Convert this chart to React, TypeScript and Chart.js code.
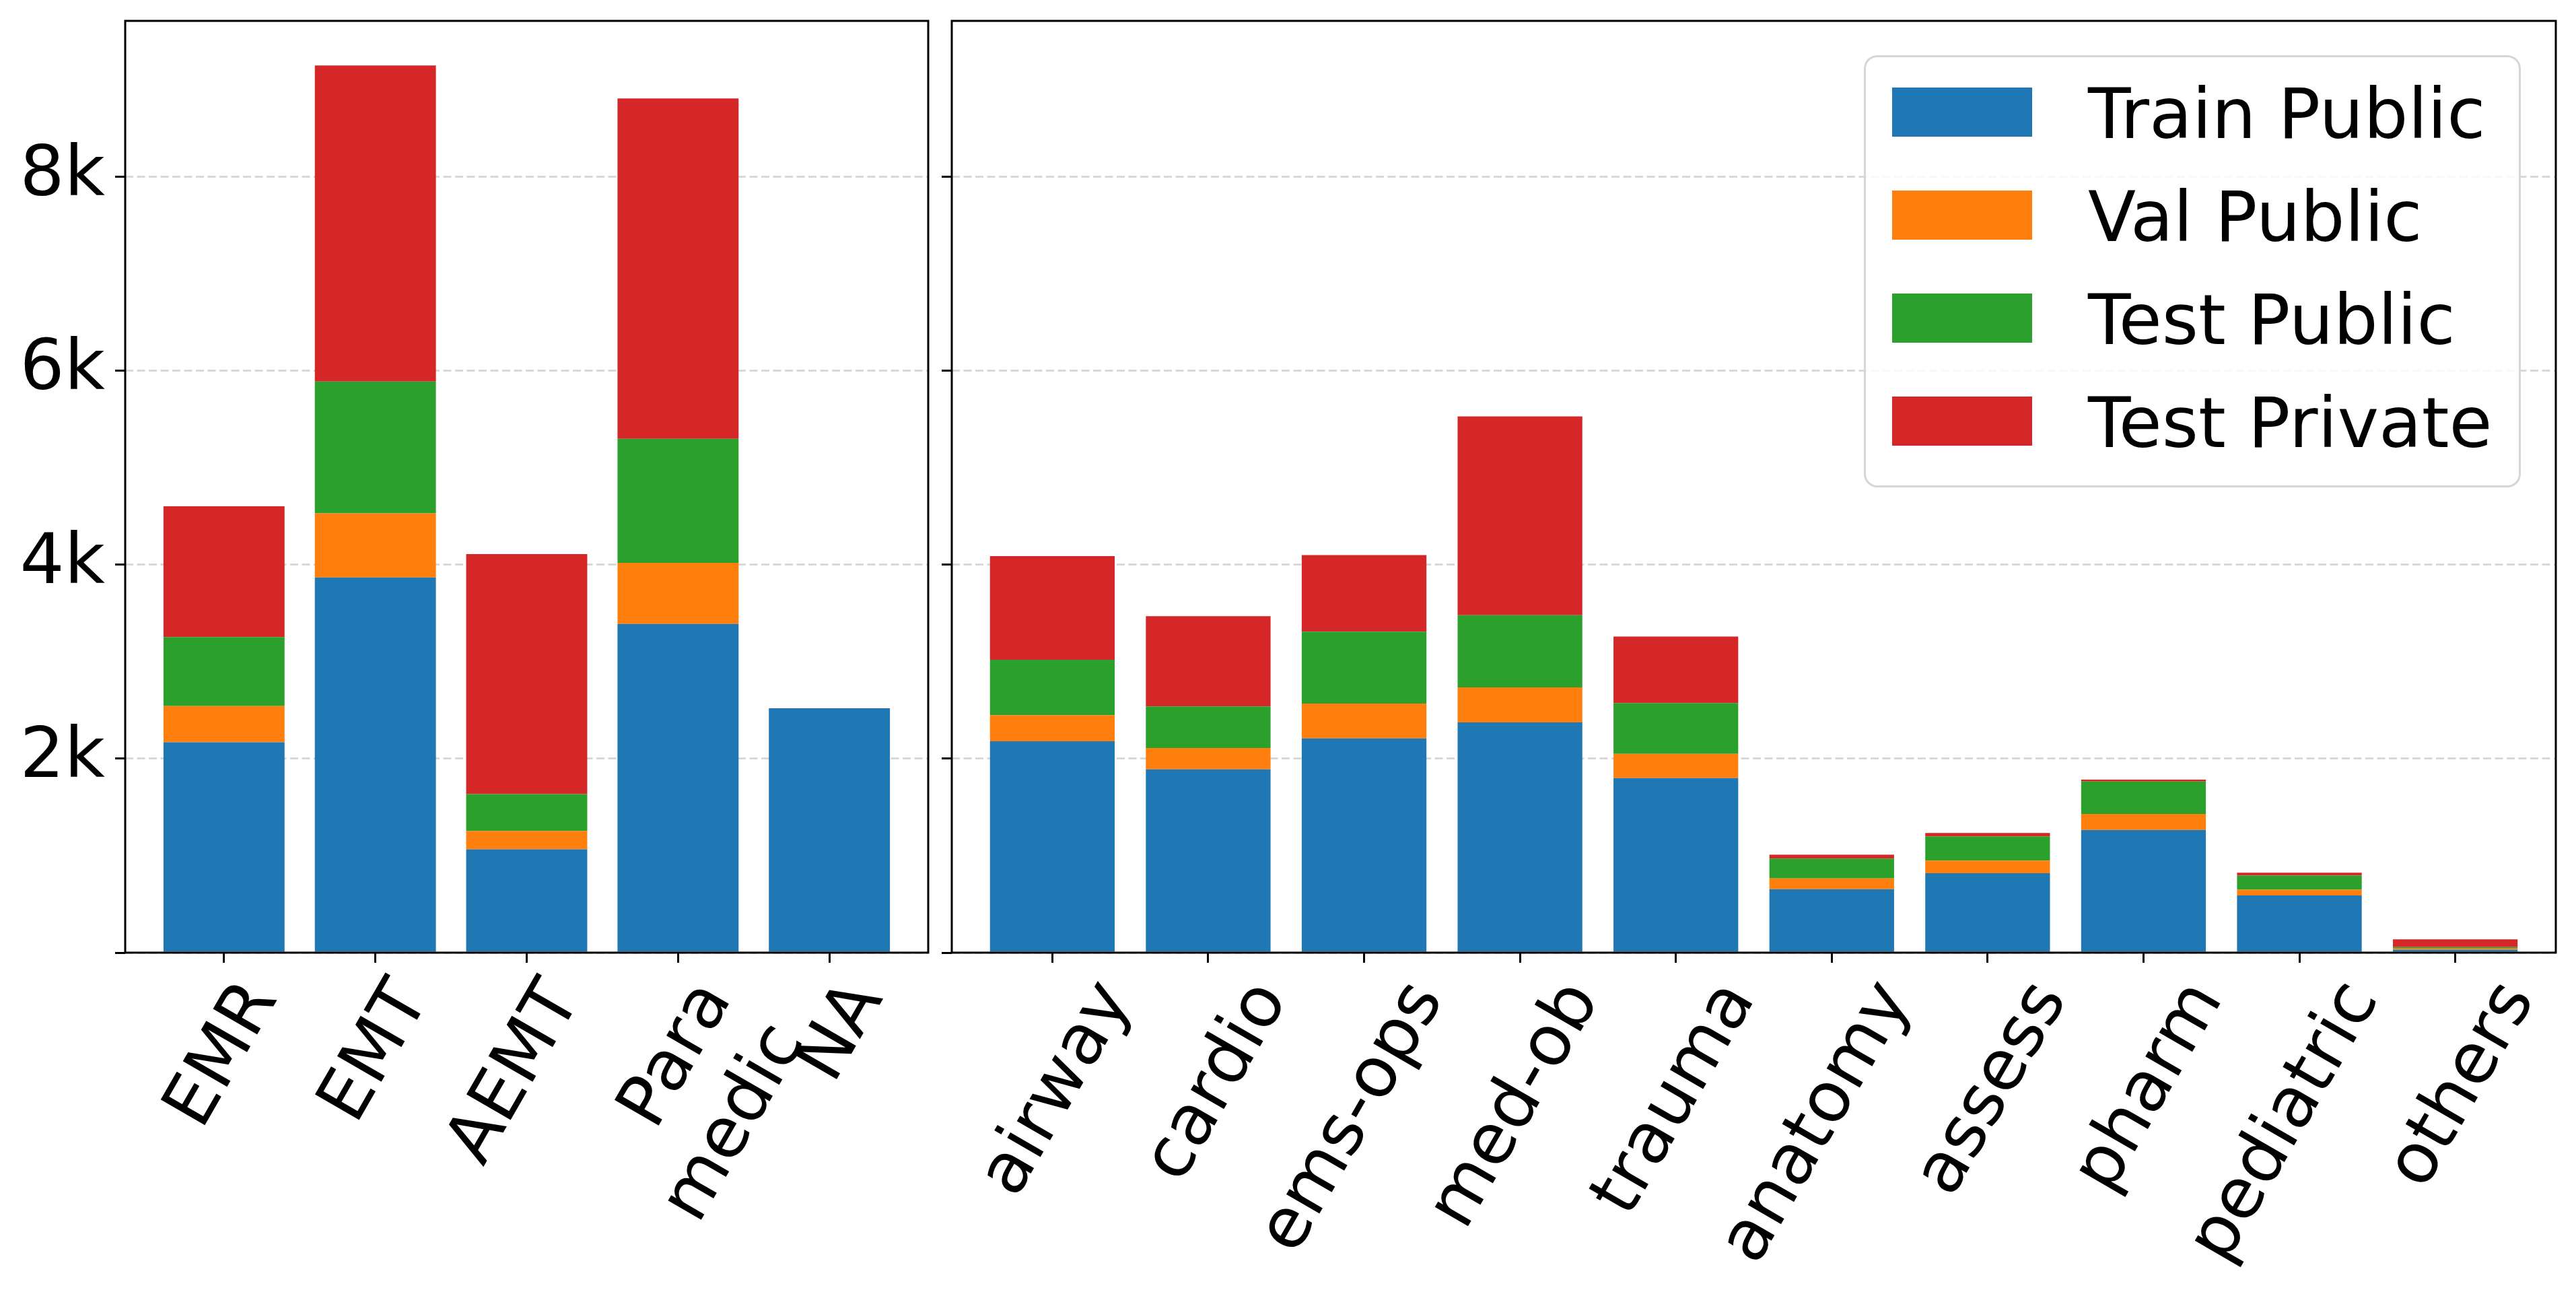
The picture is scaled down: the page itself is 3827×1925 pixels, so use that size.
import { useEffect, useRef } from "react";
import { Chart, registerables } from "chart.js";

Chart.register(...registerables);

const seriesLabels = ["Train Public", "Val Public", "Test Public", "Test Private"];
const seriesColors = ["#1f77b4", "#ff7f0e", "#2ca02c", "#d62728"];

// left panel: certification level
const levelCategories = ["EMR", "EMT", "AEMT", "Para\nmedic", "NA"];
const levelTrainPublic = [2170, 3870, 1065, 3390, 2520];
const levelValPublic = [373, 660, 190, 630, 0];
const levelTestPublic = [712, 1360, 380, 1280, 0];
const levelTestPrivate = [1349, 3260, 2475, 3510, 0];

// right panel: topic
const topicCategories = ["airway", "cardio", "ems-ops", "med-ob", "trauma", "anatomy", "assess", "pharm", "pediatric", "others"];
const topicTrainPublic = [2180, 1890, 2210, 2375, 1800, 655, 820, 1265, 590, 29];
const topicValPublic = [270, 220, 360, 360, 250, 110, 130, 165, 60, 14];
const topicTestPublic = [570, 430, 740, 745, 525, 205, 250, 335, 145, 14];
const topicTestPrivate = [1070, 930, 790, 2050, 685, 40, 35, 20, 30, 80];

const yTickValues = [0, 2000, 4000, 6000, 8000];
const yMax = 9610;

const FONT = '"DejaVu Sans", sans-serif';
const FONT_SIZE = 104;

const framePlugin = {
  id: "frame",
  afterDraw(chart: Chart) {
    const { ctx, chartArea: a } = chart;
    ctx.save();
    ctx.strokeStyle = "#000";
    ctx.lineWidth = 3;
    ctx.strokeRect(a.left, a.top, a.right - a.left, a.bottom - a.top);
    ctx.restore();
  },
};

type PanelProps = {
  categories: string[];
  series: number[][];
  xMin: number;
  xMax: number;
  left: number;
  width: number;
  yAxisWidth: number;
  padRight: number;
  showYLabels: boolean;
  labelOffset: number;
};

function Panel(props: PanelProps) {
  const canvasRef = useRef<HTMLCanvasElement>(null);
  const height = 1925;

  useEffect(() => {
    if (!canvasRef.current) return;
    const { categories, series } = props;

    const chart = new Chart(canvasRef.current, {
      type: "bar",
      data: {
        datasets: series.map((values, s) => ({
          label: seriesLabels[s],
          data: values.map((v, i) => ({ x: i, y: v })),
          backgroundColor: seriesColors[s],
          borderWidth: 0,
          barPercentage: 0.8,
          categoryPercentage: 1,
        })),
      },
      options: {
        responsive: false,
        animation: false,
        devicePixelRatio: 1,
        layout: { padding: { top: 31, right: props.padRight, left: 0, bottom: 0 } },
        plugins: { legend: { display: false }, tooltip: { enabled: false } },
        scales: {
          x: {
            type: "linear",
            stacked: true,
            min: props.xMin,
            max: props.xMax,
            offset: false,
            grid: {
              offset: false,
              drawOnChartArea: false,
              drawTicks: true,
              tickLength: 15,
              tickWidth: 3,
              tickColor: "#000",
            },
            border: { display: false },
            afterBuildTicks: (scale: any) => {
              scale.ticks = categories.map((_, i) => ({ value: i }));
            },
            afterFit: (scale: any) => {
              scale.height = height - 1415;
              scale.paddingLeft = 0;
              scale.paddingRight = 0;
            },
            ticks: {
              autoSkip: false,
              minRotation: 60,
              maxRotation: 60,
              padding: 8,
              labelOffset: props.labelOffset,
              color: "#000",
              font: { family: FONT, size: FONT_SIZE },
              callback: (value: any) => {
                const label = categories[Number(value)] ?? "";
                return label.includes("\n") ? label.split("\n") : label;
              },
            },
          },
          y: {
            stacked: true,
            min: 0,
            max: yMax,
            z: 1,
            grid: {
              color: "rgba(128,128,128,0.3)",
              lineWidth: 3,
              drawTicks: true,
              tickLength: 15,
              tickWidth: 3,
              tickColor: "#000",
            },
            border: { display: false, dash: [12, 5.5] },
            afterBuildTicks: (scale: any) => {
              scale.ticks = yTickValues.map((v) => ({ value: v }));
            },
            afterFit: (scale: any) => {
              scale.width = props.yAxisWidth;
              scale.paddingTop = 0;
              scale.paddingBottom = 0;
            },
            ticks: {
              display: props.showYLabels,
              padding: 15,
              color: "#000",
              font: { family: FONT, size: FONT_SIZE },
              callback: (value: any) => (Number(value) === 0 ? "" : `${Number(value) / 1000}k`),
            },
          },
        },
      },
      plugins: [framePlugin],
    });

    return () => {
      chart.destroy();
    };
  }, []);

  return (
    <canvas
      ref={canvasRef}
      width={props.width}
      height={height}
      style={{ position: "absolute", left: props.left, top: 0, display: "block" }}
    />
  );
}

function Legend() {
  return (
    <div
      style={{
        position: "absolute",
        left: 2769,
        top: 82,
        width: 976,
        height: 642,
        boxSizing: "border-box",
        border: "3px solid rgba(204,204,204,0.8)",
        borderRadius: 20,
        background: "rgba(255,255,255,0.8)",
      }}
    >
      {seriesLabels.map((label, i) => (
        <div
          key={label}
          style={{
            position: "absolute",
            left: 39,
            top: 45 + i * 153,
            height: 73,
            display: "flex",
            alignItems: "center",
          }}
        >
          <div style={{ width: 208, height: 73, background: seriesColors[i] }} />
          <span
            style={{
              marginLeft: 83,
              marginTop: 4,
              fontFamily: FONT,
              fontSize: FONT_SIZE,
              lineHeight: `${FONT_SIZE}px`,
              color: "#000",
              whiteSpace: "nowrap",
            }}
          >
            {label}
          </span>
        </div>
      ))}
    </div>
  );
}

export default function App() {
  return (
    <div
      style={{
        position: "absolute",
        left: 0,
        top: 0,
        width: 3827,
        height: 1925,
        background: "#fff",
        overflow: "hidden",
      }}
    >
      <Panel
        categories={levelCategories}
        series={[levelTrainPublic, levelValPublic, levelTestPublic, levelTestPrivate]}
        xMin={-0.653}
        xMax={4.653}
        left={0}
        width={1396}
        yAxisWidth={186}
        padRight={17}
        showYLabels={true}
        labelOffset={57}
      />
      <Panel
        categories={topicCategories}
        series={[topicTrainPublic, topicValPublic, topicTestPublic, topicTestPrivate]}
        xMin={-0.645}
        xMax={9.645}
        left={1100}
        width={2727}
        yAxisWidth={314}
        padRight={30}
        showYLabels={false}
        labelOffset={95}
      />
      <Legend />
    </div>
  );
}
